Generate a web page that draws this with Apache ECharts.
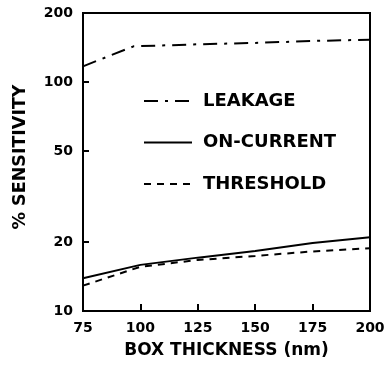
<!DOCTYPE html>
<html><head><meta charset="utf-8">
<script src="https://cdn.jsdelivr.net/npm/echarts@6/dist/echarts.min.js"></script>
<style>html,body{margin:0;padding:0;background:#fff}#c{width:388px;height:372px}</style>
</head><body><div id="c"></div>
<script>
const xValues = [75, 100, 125, 150, 175, 200];
const leakageX = [75, 97, 125, 150, 175, 200];
const leakage = [117, 143, 146, 148, 151, 153];
const onCurrent = [13.9, 15.9, 17.1, 18.3, 19.8, 21.0];
const threshold = [12.9, 15.6, 16.7, 17.4, 18.2, 18.8];
const yTicks = [10, 20, 50, 100, 200];

const font = 'DejaVu Sans, sans-serif';
const chart = echarts.init(document.getElementById('c'));
chart.setOption({
  animation: false,
  backgroundColor: '#fff',
  grid: {left: 83, right: 18, top: 13, bottom: 61, show: true, borderColor: '#000', borderWidth: 2,
         backgroundColor: 'transparent', outerBoundsMode: 'none', containLabel: false},
  legend: {
    orient: 'vertical', left: 138, top: 87, itemWidth: 48, itemHeight: 18, itemGap: 23.5,
    itemStyle: {opacity: 0},
    textStyle: {fontFamily: font, fontWeight: 'bold', fontSize: 18, color: '#000', padding: [0, 0, 0, 6]},
    data: ['LEAKAGE', 'ON-CURRENT', 'THRESHOLD']
  },
  xAxis: {
    type: 'value', min: 75, max: 200, interval: 25,
    name: 'BOX THICKNESS (nm)', nameLocation: 'middle', nameGap: 31,
    nameTextStyle: {fontFamily: font, fontWeight: 'bold', fontSize: 17, color: '#000'},
    axisLine: {lineStyle: {color: '#000', width: 2}},
    axisTick: {inside: true, length: 7, lineStyle: {color: '#000', width: 2}},
    axisLabel: {fontFamily: font, fontWeight: 'bold', fontSize: 14, color: '#000', margin: 10},
    splitLine: {show: false}
  },
  yAxis: {
    type: 'log', logBase: 10, min: 10, max: 200,
    name: '% SENSITIVITY', nameLocation: 'middle', nameGap: 54, nameRotate: 90,
    nameTextStyle: {fontFamily: font, fontWeight: 'bold', fontSize: 17.5, color: '#000', padding: [0, 0, 0, 10]},
    axisLine: {lineStyle: {color: '#000', width: 2}},
    axisTick: {inside: true, length: 6, lineStyle: {color: '#000', width: 2}, customValues: yTicks},
    axisLabel: {fontFamily: font, fontWeight: 'bold', fontSize: 14, color: '#000', margin: 10, customValues: yTicks},
    splitLine: {show: false}, minorTick: {show: false}
  },
  series: [
    {name: 'LEAKAGE', type: 'line', symbol: 'none', data: leakageX.map((x, i) => [x, leakage[i]]),
     lineStyle: {color: '#000', width: 2, type: [14, 7, 3, 7]}, itemStyle: {color: '#000'}},
    {name: 'ON-CURRENT', type: 'line', symbol: 'none', data: xValues.map((x, i) => [x, onCurrent[i]]),
     lineStyle: {color: '#000', width: 2, type: 'solid'}, itemStyle: {color: '#000'}},
    {name: 'THRESHOLD', type: 'line', symbol: 'none', data: xValues.map((x, i) => [x, threshold[i]]),
     lineStyle: {color: '#000', width: 2, type: [7, 6]}, itemStyle: {color: '#000'}}
  ]
});
</script></body></html>
